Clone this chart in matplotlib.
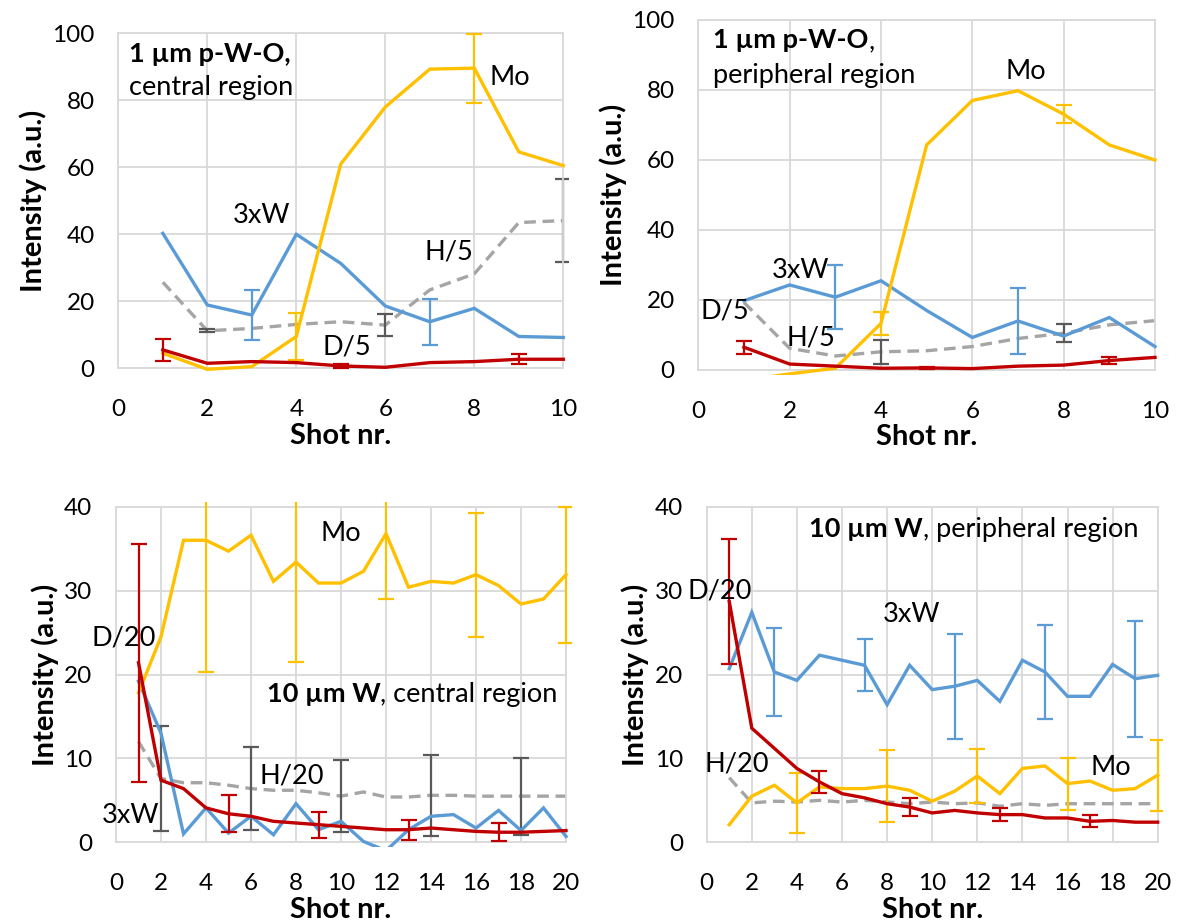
import numpy as np
import matplotlib
matplotlib.use("Agg")
import matplotlib.pyplot as plt
from matplotlib.patches import Rectangle

plt.rcParams['font.family'] = ['Lato', 'DejaVu Sans']

# ---------------- data ----------------
shots10 = list(range(1, 11))
shots20 = list(range(1, 21))

# Panel 1: 1 um p-W-O, central region
p1_mo = [4.5, -0.3, 0.5, 9.5, 61, 78, 89.3, 89.6, 64.6, 60.5]
p1_w = [40.3, 18.9, 15.9, 40, 31.3, 18.6, 13.9, 17.9, 9.5, 9.2]
p1_h = [25.7, 11.2, 11.9, 13.1, 13.9, 12.9, 23.4, 28.2, 43.5, 44.1]
p1_d = [5.5, 1.5, 2.0, 1.7, 0.7, 0.3, 1.7, 2.0, 2.7, 2.7]
p1_mo_ex, p1_mo_e = [4, 8], [7.0, 10.3]
p1_w_ex, p1_w_e = [3, 7], [7.5, 6.9]
p1_h_ex, p1_h_e = [2, 6, 10], [0.5, 3.4, 12.5]
p1_d_ex, p1_d_e = [1, 5, 9], [3.3, 0.5, 1.5]

# Panel 2: 1 um p-W-O, peripheral region
p2_mo = [-3.0, -1.1, 0.5, 13.3, 64.3, 77, 79.8, 73.1, 64.3, 60]
p2_w = [19.8, 24.3, 20.8, 25.5, 17, 9.3, 14, 9.7, 15, 6.7]
p2_h = [19.3, 6.2, 4.0, 5.2, 5.5, 6.7, 9.0, 10.5, 12.9, 14.1]
p2_d = [6.5, 1.7, 1.1, 0.5, 0.6, 0.4, 1.1, 1.4, 2.7, 3.6]
p2_mo_ex, p2_mo_e = [4, 8], [3.3, 2.5]
p2_w_ex, p2_w_e = [3, 7], [9.1, 9.3]
p2_h_ex, p2_h_e = [4, 8], [3.4, 2.5]
p2_d_ex, p2_d_e = [1, 5, 9], [1.8, 0.3, 1.0]

# Panel 3: 10 um W, central region
p3_mo = [17.8, 24.5, 36, 36, 34.7, 36.6, 31.1, 33.4, 30.9, 30.9,
         32.3, 36.8, 30.4, 31.1, 30.9, 31.9, 30.6, 28.4, 29, 31.9]
p3_w = [19.2, 13, 1.0, 4.1, 1.1, 3.1, 0.9, 4.6, 1.5, 2.5,
        0.1, -1.0, 1.5, 3.1, 3.3, 1.7, 3.8, 1.4, 4.1, 0.7]
p3_h = [12, 7.6, 7.1, 7.1, 6.8, 6.4, 6.2, 6.2, 5.9, 5.5,
        6.0, 5.4, 5.4, 5.6, 5.6, 5.5, 5.5, 5.5, 5.5, 5.5]
p3_d = [21.4, 7.4, 6.4, 4.1, 3.4, 3.1, 2.5, 2.3, 2.1, 1.9,
        1.7, 1.5, 1.5, 1.7, 1.5, 1.3, 1.2, 1.2, 1.3, 1.4]
p3_mo_ex, p3_mo_e = [4, 8, 12, 16, 20], [15.7, 11.9, 7.8, 7.4, 8.1]
p3_h_ex, p3_h_e = [2, 6, 10, 14, 18], [6.3, 4.9, 4.25, 4.8, 4.6]
p3_d_ex, p3_d_e = [1, 5, 9, 13, 17], [14.2, 2.2, 1.55, 1.2, 1.1]

# Panel 4: 10 um W, peripheral region
p4_mo = [2.1, 5.5, 6.8, 4.7, 6.6, 6.4, 6.4, 6.7, 6.2, 4.9,
         6.1, 7.9, 5.8, 8.8, 9.1, 7.0, 7.3, 6.2, 6.4, 8.0]
p4_w = [20.7, 27.4, 20.3, 19.3, 22.3, 21.7, 21.1, 16.4, 21.1, 18.2,
        18.6, 19.3, 16.8, 21.7, 20.3, 17.4, 17.4, 21.2, 19.5, 19.9]
p4_h = [7.7, 4.7, 4.9, 4.8, 5.0, 4.8, 5.0, 4.8, 4.6, 4.8,
        4.6, 4.7, 4.3, 4.6, 4.4, 4.6, 4.6, 4.6, 4.6, 4.6]
p4_d = [28.7, 13.6, 11.2, 8.8, 7.2, 5.8, 5.3, 4.6, 4.2, 3.5,
        3.8, 3.5, 3.3, 3.3, 2.9, 2.9, 2.5, 2.6, 2.4, 2.4]
p4_mo_ex, p4_mo_e = [4, 8, 12, 16, 20], [3.6, 4.3, 3.25, 3.1, 4.25]
p4_w_ex, p4_w_e = [3, 7, 11, 15, 19], [5.25, 3.1, 6.25, 5.55, 6.9]
p4_d_ex, p4_d_e = [1, 5, 9, 13, 17], [7.4, 1.35, 1.05, 0.8, 0.7]

# ---------------- style ----------------
C_MO = '#FFC000'
C_W = '#5B9BD5'
C_H = '#A5A5A5'
C_HE = '#595959'
C_D = '#C00000'
GRID = '#D9D9D9'
FS_TICK = 17.5
FS = 19.5
FS_LAB = 21
LW = 2.4

fig = plt.figure(figsize=(11.79, 9.24), dpi=100)
W, H = 1179, 924


def make_axes(x0, x1, y0, y1):
    return fig.add_axes([x0 / W, 1 - y1 / H, (x1 - x0) / W, (y1 - y0) / H])


def style(ax, xmax, xstep, ymax, ystep):
    ax.set_xlim(0, xmax)
    ax.set_ylim(0, ymax)
    ax.set_xticks(np.arange(0, xmax + 1, xstep))
    ax.set_yticks(np.arange(0, ymax + 1, ystep))
    ax.grid(True, color=GRID, lw=1.3)
    ax.set_axisbelow(True)
    for s in ax.spines.values():
        s.set_color(GRID)
        s.set_linewidth(1.3)
    ax.tick_params(length=0, labelsize=FS_TICK, pad=17)
    ax.tick_params(axis='x', pad=22)
    ax.set_xlabel('Shot nr.', fontsize=FS_LAB, fontweight='bold', labelpad=2)
    ax.set_ylabel('Intensity (a.u.)', fontsize=FS_LAB, fontweight='bold', labelpad=4)


def series(ax, x, y, color, ex=None, e=None, ecolor=None, dashed=False, z=2):
    clip = Rectangle((-0.01, -0.015), 1.02, 1.03, transform=ax.transAxes,
                     facecolor='none', edgecolor='none')
    ax.add_patch(clip)
    ln, = ax.plot(x, y, color=color, lw=LW, zorder=z,
                  solid_joinstyle='miter')
    if dashed:
        ln.set_dashes((3.5, 2.0))
    ln.set_clip_path(clip)
    if ex is not None:
        ey = [y[i - 1] for i in ex]
        eb = ax.errorbar(ex, ey, yerr=e, fmt='none', ecolor=ecolor or color,
                         elinewidth=1.6, capsize=6, capthick=1.6, zorder=z + 0.5)
        for art in eb.lines[1] + eb.lines[2]:
            art.set_clip_path(clip)


def mixed(ax, x, y, parts):
    fig.canvas.draw()
    r = fig.canvas.get_renderer()
    inv = ax.transData.inverted()
    cx = x
    for s, wgt in parts:
        t = ax.text(cx, y, s, fontsize=FS, fontweight=wgt, ha='left',
                    va='baseline', zorder=6)
        bb = t.get_window_extent(r)
        cx = inv.transform((bb.x1, bb.y0))[0]


def label(ax, x, y, s):
    ax.text(x, y, s, fontsize=FS, va='baseline', ha='left', clip_on=False, zorder=6)


# Panel 1
ax1 = make_axes(118.3, 563.3, 33.3, 368.3)
style(ax1, 10, 2, 100, 20)
series(ax1, shots10, p1_h, C_H, p1_h_ex, p1_h_e, C_HE, dashed=True, z=2)
series(ax1, shots10, p1_w, C_W, p1_w_ex, p1_w_e, z=3)
series(ax1, shots10, p1_mo, C_MO, p1_mo_ex, p1_mo_e, z=4)
series(ax1, shots10, p1_d, C_D, p1_d_ex, p1_d_e, z=5)
label(ax1, 8.35, 84.6, 'Mo')
label(ax1, 2.58, 43.3, '3xW')
label(ax1, 6.89, 32.5, 'H/5')
label(ax1, 4.6, 4.0, 'D/5')

# Panel 2
ax2 = make_axes(698.3, 1155, 20, 370)
style(ax2, 10, 2, 100, 20)
series(ax2, shots10, p2_h, C_H, p2_h_ex, p2_h_e, C_HE, dashed=True, z=2)
series(ax2, shots10, p2_w, C_W, p2_w_ex, p2_w_e, z=3)
series(ax2, shots10, p2_mo, C_MO, p2_mo_ex, p2_mo_e, z=4)
series(ax2, shots10, p2_d, C_D, p2_d_ex, p2_d_e, z=5)
label(ax2, 6.72, 83, 'Mo')
label(ax2, 1.61, 26.4, '3xW')
label(ax2, 0.04, 14.8, 'D/5')
label(ax2, 1.94, 7.1, 'H/5')

# Panel 3
ax3 = make_axes(116, 566, 506.7, 842.3)
style(ax3, 20, 2, 40, 10)
series(ax3, shots20, p3_h, C_H, p3_h_ex, p3_h_e, C_HE, dashed=True, z=2)
series(ax3, shots20, p3_w, C_W, z=3)
series(ax3, shots20, p3_mo, C_MO, p3_mo_ex, p3_mo_e, z=4)
series(ax3, shots20, p3_d, C_D, p3_d_ex, p3_d_e, z=5)
label(ax3, 9.1, 35.9, 'Mo')
label(ax3, -1.07, 23.5, 'D/20')
label(ax3, 6.4, 7.0, 'H/20')
label(ax3, -0.62, 2.26, '3xW')

# Panel 4
ax4 = make_axes(706.7, 1157.7, 506.7, 842.3)
style(ax4, 20, 2, 40, 10)
series(ax4, shots20, p4_h, C_H, dashed=True, z=2)
series(ax4, shots20, p4_w, C_W, p4_w_ex, p4_w_e, z=3)
series(ax4, shots20, p4_mo, C_MO, p4_mo_ex, p4_mo_e, z=4)
series(ax4, shots20, p4_d, C_D, p4_d_ex, p4_d_e, z=5)
label(ax4, 7.8, 26.3, '3xW')
label(ax4, -0.85, 29.0, 'D/20')
label(ax4, -0.08, 8.4, 'H/20')
label(ax4, 17.0, 8.0, 'Mo')

# Panel titles (bold + regular mixed)
mixed(ax1, 0.24, 91.5, [('1 µm p-W-O,', 'bold')])
mixed(ax1, 0.24, 81.6, [('central region', 'normal')])
mixed(ax2, 0.33, 91.9, [('1 µm p-W-O', 'bold'), (',', 'normal')])
mixed(ax2, 0.33, 81.9, [('peripheral region', 'normal')])
mixed(ax3, 6.7, 16.7, [('10 µm W', 'bold'), (', central region', 'normal')])
mixed(ax4, 4.55, 36.4, [('10 µm W', 'bold'), (', peripheral region', 'normal')])

fig.savefig('out.png', dpi=100)
